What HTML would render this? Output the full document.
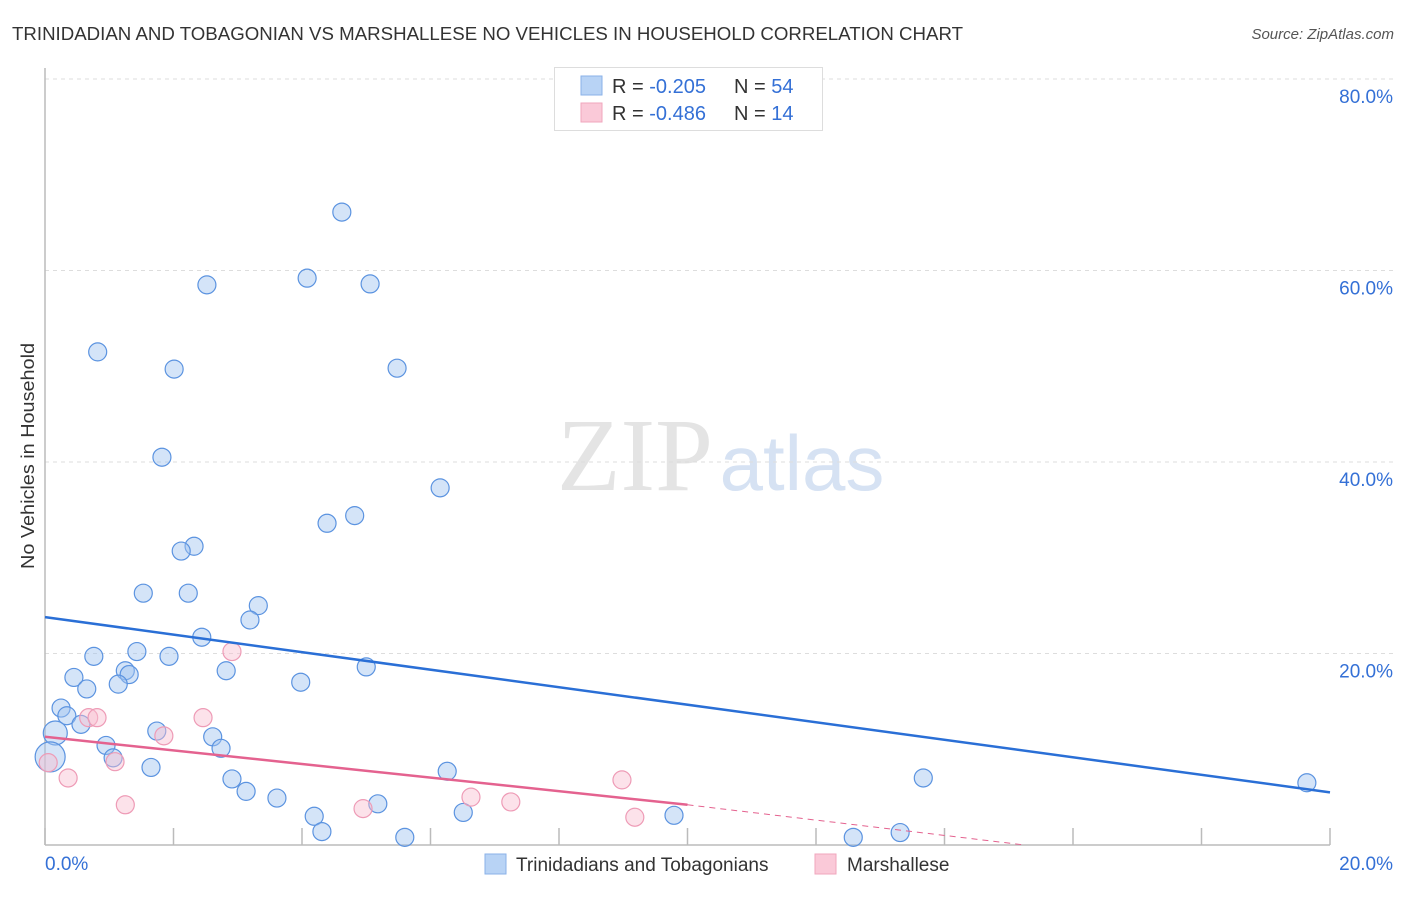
<!DOCTYPE html>
<html><head><meta charset="utf-8">
<style>
body{margin:0;background:#fff;font-family:"Liberation Sans",sans-serif;}
svg text{font-family:"Liberation Sans",sans-serif;}
</style></head>
<body>
<svg id="chart" width="1406" height="892" xmlns="http://www.w3.org/2000/svg">
<text x="12" y="40" font-size="18" fill="#333" textLength="951" lengthAdjust="spacingAndGlyphs">TRINIDADIAN AND TOBAGONIAN VS MARSHALLESE NO VEHICLES IN HOUSEHOLD CORRELATION CHART</text>
<text x="1394" y="39" font-size="15" fill="#555" font-style="italic" text-anchor="end">Source: ZipAtlas.com</text>
<g>
<text x="635" y="490" font-size="104" fill="#e4e4e4" font-family="Liberation Serif" text-anchor="middle" style="font-family:'Liberation Serif',serif">ZIP</text>
<text x="802" y="490" font-size="78" fill="#d6e2f3" text-anchor="middle">atlas</text>
</g>
<g id="grid"></g>
<g id="axes"></g>
<g id="marks"></g>
<text transform="translate(34,456) rotate(-90)" font-size="18.5" fill="#333" text-anchor="middle" textLength="226" lengthAdjust="spacingAndGlyphs">No Vehicles in Household</text>
<g>
<rect x="554.5" y="67.5" width="268" height="63" fill="#fff" stroke="#ddd"/>
<rect x="581" y="76" width="21" height="19" fill="#b8d3f5" stroke="#8ab2e8"/>
<rect x="581" y="103" width="21" height="19" fill="#fac9d8" stroke="#f0a6bd"/>
<text x="612" y="93" font-size="20" fill="#333">R = <tspan fill="#3470d6">-0.205</tspan></text>
<text x="734" y="93" font-size="20" fill="#333">N = <tspan fill="#3470d6">54</tspan></text>
<text x="612" y="120" font-size="20" fill="#333">R = <tspan fill="#3470d6">-0.486</tspan></text>
<text x="734" y="120" font-size="20" fill="#333">N = <tspan fill="#3470d6"> 14</tspan></text>
</g>
<g>
<rect x="485" y="854" width="21" height="20" fill="#b8d3f5" stroke="#8ab2e8"/>
<text x="516" y="871" font-size="19" fill="#333">Trinidadians and Tobagonians</text>
<rect x="815" y="854" width="21" height="20" fill="#fac9d8" stroke="#f0a6bd"/>
<text x="847" y="871" font-size="19" fill="#333">Marshallese</text>
</g>
</svg>
<script>
const blueX=[4.62,4.08,2.52,5.06,0.82,2.01,5.48,1.82,6.15,4.82,4.39,2.32,2.12,1.53,2.23,3.32,3.19,2.44,1.43,0.76,1.93,1.25,1.31,5.0,0.45,2.82,1.14,3.98,0.65,0.25,0.34,0.56,0.16,1.74,2.61,0.95,2.74,0.08,1.06,1.65,6.26,13.67,19.64,2.91,3.13,3.61,5.18,6.51,4.19,9.79,4.31,5.6,13.31,12.58];
const blueY=[66.1,59.2,58.5,58.6,51.5,49.7,49.8,40.5,37.3,34.4,33.6,31.2,30.7,26.3,26.3,25.0,23.5,21.7,20.2,19.7,19.7,18.2,17.8,18.6,17.5,18.2,16.8,17.0,16.3,14.3,13.5,12.6,11.7,11.9,11.3,10.4,10.1,9.2,9.1,8.1,7.7,7.0,6.5,6.9,5.6,4.9,4.3,3.4,3.0,3.1,1.4,0.8,1.3,0.8];
const pinkX=[2.91,0.68,0.81,2.46,1.85,0.05,1.09,0.36,8.98,1.25,6.63,7.25,4.95,9.18];
const pinkY=[20.2,13.3,13.3,13.3,11.4,8.6,8.7,7.0,6.8,4.2,5.0,4.5,3.8,2.9];
const blueTrend=[23.8,5.5];
const pinkTrend=[11.3,4.2];
const pinkZeroX=[15.25];
const yTicks=[20,40,60,80];
const yTickLabels=["20.0%","40.0%","60.0%","80.0%"];
const xTicks=[0,2,4,6,8,10,12,14,16,18,20];
const NS="http://www.w3.org/2000/svg";
const sx=v=>45+v*64.25, sy=v=>845-v*9.575;
function mk(p,t,a){const e=document.createElementNS(NS,t);for(const k in a)e.setAttribute(k,a[k]);document.getElementById(p).appendChild(e);return e;}
yTicks.forEach((t,i)=>{
 const g=mk('grid','line',{x1:45,x2:1393,y1:sy(t),y2:sy(t),stroke:'#ddd','stroke-dasharray':'4,4'});
 
 
 const l=mk('grid','text',{x:1393,y:sy(t)+24,'font-size':19,fill:'#3470d6','text-anchor':'end'});
 l.textContent=yTickLabels[i];
 
 
});
const ax=mk('axes','line',{x1:45,x2:45,y1:68,y2:845,stroke:'#bbb','stroke-width':1.5});


const bx=mk('axes','line',{x1:45,x2:1330,y1:845,y2:845,stroke:'#bbb','stroke-width':1.5});


xTicks.forEach(t=>{const e=mk('axes','line',{x1:sx(t),x2:sx(t),y1:828,y2:845,stroke:'#bbb','stroke-width':1.5});
 
 });
const x0=mk('axes','text',{x:45,y:870,'font-size':19,fill:'#3470d6'});x0.textContent='0.0%';


const x1=mk('axes','text',{x:1393,y:870,'font-size':19,fill:'#3470d6','text-anchor':'end'});x1.textContent='20.0%';


blueX.forEach((x,i)=>{const r=(i==32||i==37)?(i==37?15:12):9;
 const c=mk('marks','circle',{cx:sx(x),cy:sy(blueY[i]),r:r,fill:'rgba(160,196,240,0.45)',stroke:'#5b93e0','stroke-width':1.2});
 
 });
pinkX.forEach((x,i)=>{const c=mk('marks','circle',{cx:sx(x),cy:sy(pinkY[i]),r:9,fill:'rgba(248,190,208,0.45)',stroke:'#ee9bb6','stroke-width':1.2});
 
 });
const bl=mk('marks','line',{x1:sx(0),y1:sy(blueTrend[0]),x2:sx(20),y2:sy(blueTrend[1]),stroke:'#2a6fd6','stroke-width':2.5});


const pl=mk('marks','line',{x1:sx(0),y1:sy(pinkTrend[0]),x2:sx(10),y2:sy(pinkTrend[1]),stroke:'#e4628f','stroke-width':2.5});


const pd=mk('marks','line',{x1:sx(10),y1:sy(pinkTrend[1]),x2:sx(pinkZeroX[0]),y2:sy(0),stroke:'#e4628f','stroke-width':1,'stroke-dasharray':'6,5'});


</script>
</body></html>
